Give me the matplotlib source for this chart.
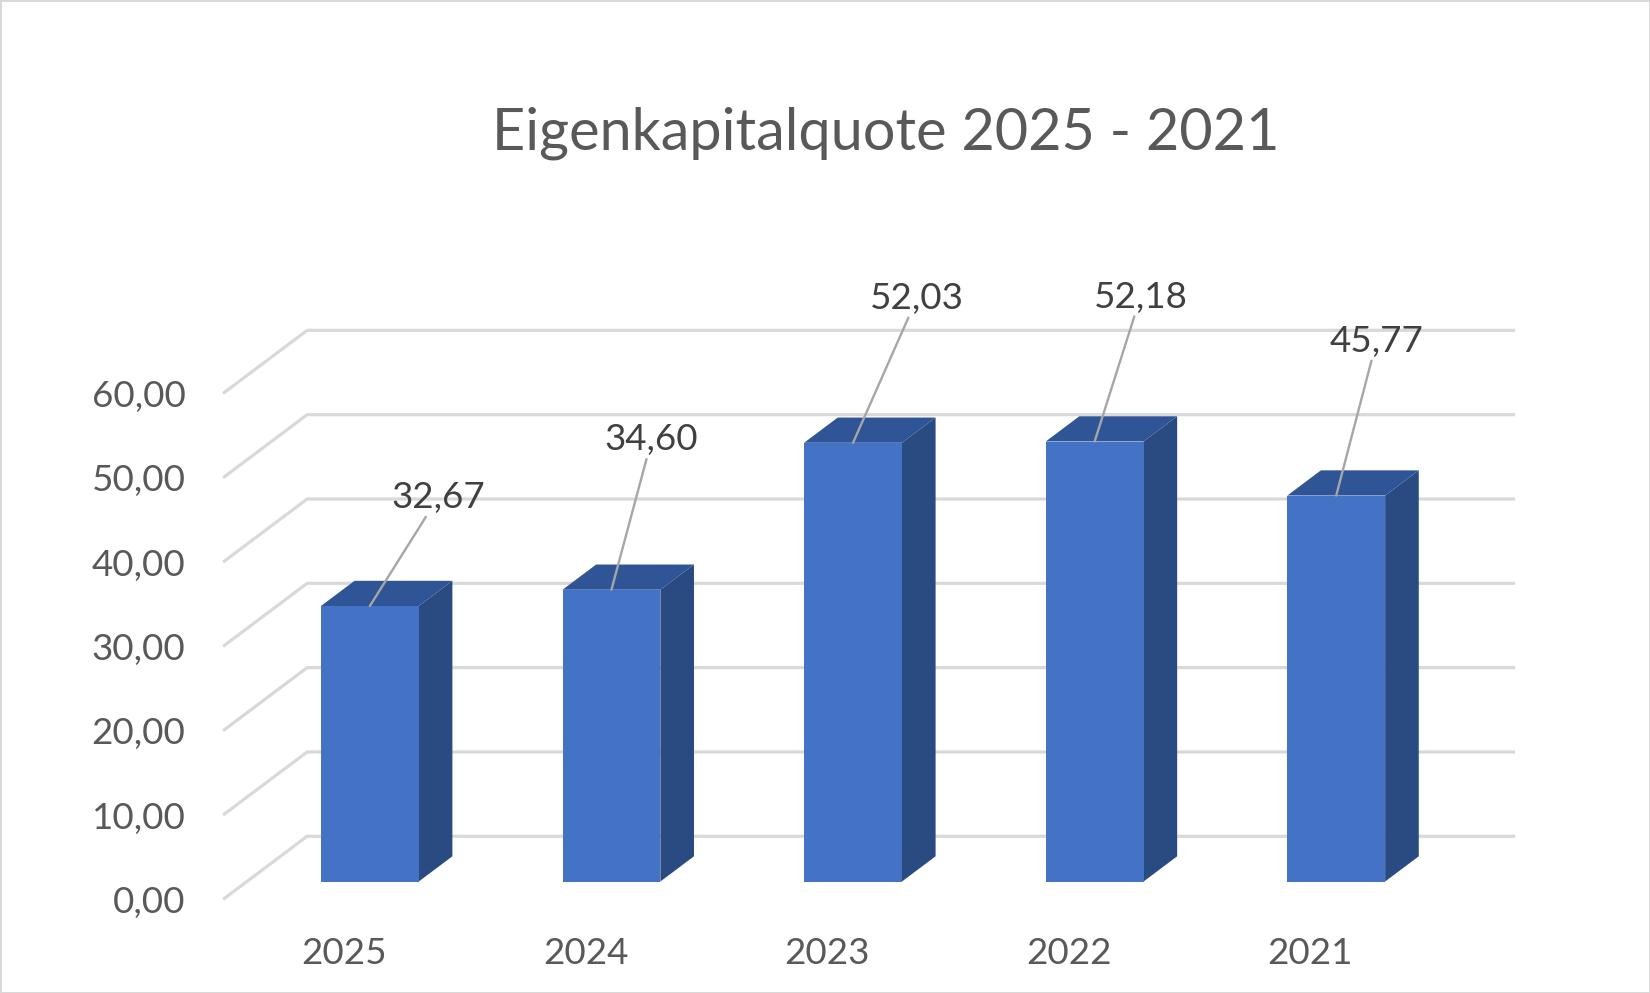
import matplotlib
matplotlib.use('Agg')
import matplotlib.pyplot as plt
from matplotlib.patches import Polygon, Rectangle

plt.rcParams['font.family'] = ['Lato', 'DejaVu Sans']

years = ['2025', '2024', '2023', '2022', '2021']
quote = [32.67, 34.60, 52.03, 52.18, 45.77]
yticks = [0, 10, 20, 30, 40, 50, 60]
# label offsets (points) as placed in the original chart
label_off = [(49, 78), (29, 108), (46, 104), (33, 104), (29, 111)]

FRONT = '#4472C4'
TOP = '#2F5597'
SIDE = '#2A4A82'
GRID = '#D9D9D9'

# oblique depth: full depth shift in data units
DX, DY = 0.348, 7.48
f0, f1 = 0.283, 0.683
w = 0.405
bx = 0.009

fig = plt.figure(figsize=(16.5, 9.93), dpi=100)
fig.patch.set_edgecolor(GRID)
fig.patch.set_linewidth(2)
ax = fig.add_axes([0.1352, 0.0943, 0.7321, 0.5095])
ax.set_xlim(-0.5, 4.5)
ax.set_ylim(0, 60)
for s in ax.spines.values():
    s.set_visible(False)

# walls / gridlines
for v in yticks:
    ax.plot([-0.5, -0.5 + DX, 4.5 + DX], [v, v + DY, v + DY],
            color=GRID, lw=2.3, clip_on=False, zorder=1, solid_capstyle='butt')

for i, v in enumerate(quote):
    xc = i + f0 * DX + bx
    xl = xc - w / 2
    xr = xl + w
    yb = f0 * DY
    yt = v + f0 * DY
    ddx = (f1 - f0) * DX
    ddy = (f1 - f0) * DY
    ax.add_patch(Polygon([(xr, yb), (xr, yt), (xr + ddx, yt + ddy), (xr + ddx, yb + ddy)],
                         closed=True, fc=SIDE, ec='none', clip_on=False, zorder=3))
    ax.add_patch(Polygon([(xl, yt), (xr, yt), (xr + ddx, yt + ddy), (xl + ddx, yt + ddy)],
                         closed=True, fc=TOP, ec='none', clip_on=False, zorder=3))
    ax.add_patch(Rectangle((xl, yb), w, v, fc=FRONT, ec='none', clip_on=False, zorder=4))
    ax.annotate('{:.2f}'.format(v).replace('.', ','), xy=(xc, yt),
                xytext=label_off[i], textcoords='offset points',
                ha='center', va='center', fontsize=26.5, color='#404040',
                arrowprops=dict(arrowstyle='-', color='#A6A6A6', lw=1.7,
                                shrinkA=0, shrinkB=0),
                annotation_clip=False, zorder=6)
    ax.annotate(years[i], xy=(i, 0), xytext=(0, -38.7), textcoords='offset points',
                ha='center', va='center', fontsize=26.5, color='#595959',
                annotation_clip=False)

ax.set_xticks([])
ax.set_yticks(yticks)
ax.set_yticklabels(['{:.2f}'.format(t).replace('.', ',') for t in yticks],
                   fontsize=26.5, color='#595959')
ax.tick_params(axis='y', length=0, pad=27)

fig.text(0.537, 0.8655, 'Eigenkapitalquote 2025 - 2021', ha='center', va='center',
         fontsize=41.5, color='#595959')

fig.savefig('out.png', dpi=100, edgecolor=fig.get_edgecolor())
